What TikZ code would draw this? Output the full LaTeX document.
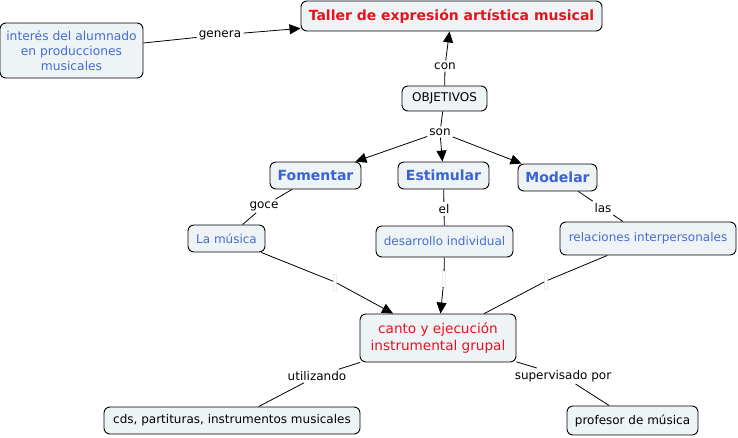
\documentclass[tikz,border=0pt]{standalone}
\usepackage{fontspec}
\setmainfont{DejaVu Sans}
\usetikzlibrary{arrows.meta}
\definecolor{boxfill}{RGB}{238,243,246}
\definecolor{cblue}{RGB}{58,98,215}
\definecolor{lblue}{RGB}{70,108,210}
\definecolor{cred}{RGB}{228,20,28}
\tikzset{
  concept/.style={draw=black, line width=0.9pt, fill=boxfill, rounded corners=6pt, inner sep=2pt, align=center},
  lbl/.style={inner sep=2pt, font=\fontsize{12}{14}\selectfont},
  gap/.style={inner sep=0pt, minimum width=3pt, minimum height=16pt, draw=black!8, line width=0.4pt},
  link/.style={line width=0.8pt, black},
  arr/.style={link, -{Triangle[length=11pt,width=10pt]}},
  reg/.style={font=\fontsize{12}{14}\selectfont},
  big/.style={text=cblue, font=\bfseries\fontsize{14}{16}\selectfont},
}
\begin{document}
\begin{tikzpicture}[x=1pt,y=-1pt]
\useasboundingbox (0,0) rectangle (738,437);
% concepts
\node[concept, minimum width=301pt, minimum height=30pt, text=cred, font=\bfseries\fontsize{14}{16}\selectfont] (taller) at (451.5,16) {Taller de expresión artística musical};
\node[concept, minimum width=143pt, minimum height=55pt, text=lblue, font=\fontsize{12.3}{15}\selectfont] (interes) at (71.5,50.5) {interés del alumnado\\en producciones\\musicales};
\node[concept, minimum width=85pt, minimum height=25pt, reg] (obj) at (444.5,98.5) {OBJETIVOS};
\node[concept, minimum width=91pt, minimum height=27pt, big] (fom) at (315.5,175.5) {Fomentar};
\node[concept, minimum width=91pt, minimum height=27pt, big] (est) at (443.5,175.5) {Estimular};
\node[concept, minimum width=79pt, minimum height=27pt, big] (mod) at (557.5,177.5) {Modelar};
\node[concept, minimum width=77pt, minimum height=27pt, text=lblue, reg] (mus) at (226.5,238.5) {La música};
\node[concept, minimum width=137pt, minimum height=31pt, text=lblue, reg] (des) at (444.5,241.5) {desarrollo individual};
\node[concept, minimum width=176pt, minimum height=33pt, text=lblue, reg] (rel) at (648,238.5) {relaciones interpersonales};
\node[concept, minimum width=156pt, minimum height=48pt, text=cred, font=\fontsize{13.6}{17}\selectfont] (canto) at (438,338) {canto y ejecución\\instrumental grupal};
\node[concept, minimum width=256pt, minimum height=27pt, reg] (cds) at (232,420.5) {cds, partituras, instrumentos musicales};
\node[concept, minimum width=131pt, minimum height=29pt, reg] (prof) at (632.5,420.5) {profesor de música};
% labels
\node[lbl] (genera) at (220,35) {genera};
\node[lbl] (con) at (445,66) {con};
\node[lbl] (son) at (440,132) {son};
\node[lbl] (goce) at (264,206) {goce};
\node[lbl] (el) at (444,209) {el};
\node[lbl] (las) at (603,208) {las};
\node[lbl] (util) at (317,376) {utilizando};
\node[lbl] (sup) at (563,376) {supervisado por};
\node[gap] (g1) at (335,282) {};
\node[gap] (g2) at (444,279) {};
\node[gap] (g3) at (546,281) {};
% connectors
\draw[link] (interes) -- (genera);
\draw[arr] (genera) -- (taller);
\draw[link] (obj) -- (con);
\draw[arr] (con) -- (taller);
\draw[link] (obj) -- (son);
\draw[arr] (son) -- (fom);
\draw[arr] (son) -- (est);
\draw[arr] (son) -- (mod);
\draw[link] (fom) -- (goce);
\draw[link] (goce) -- (mus);
\draw[link] (est) -- (el);
\draw[link] (el) -- (des);
\draw[link] (mod) -- (las);
\draw[link] (las) -- (rel);
\draw[link] (mus) -- (g1);
\draw[arr] (g1) -- (canto);
\draw[link] (des) -- (g2);
\draw[arr] (g2) -- (canto);
\draw[link] (rel) -- (g3);
\draw[link] (g3) -- (canto);
\draw[link] (canto) -- (util);
\draw[link] (util) -- (cds);
\draw[link] (canto) -- (sup);
\draw[link] (sup) -- (prof);
\end{tikzpicture}
\end{document}
